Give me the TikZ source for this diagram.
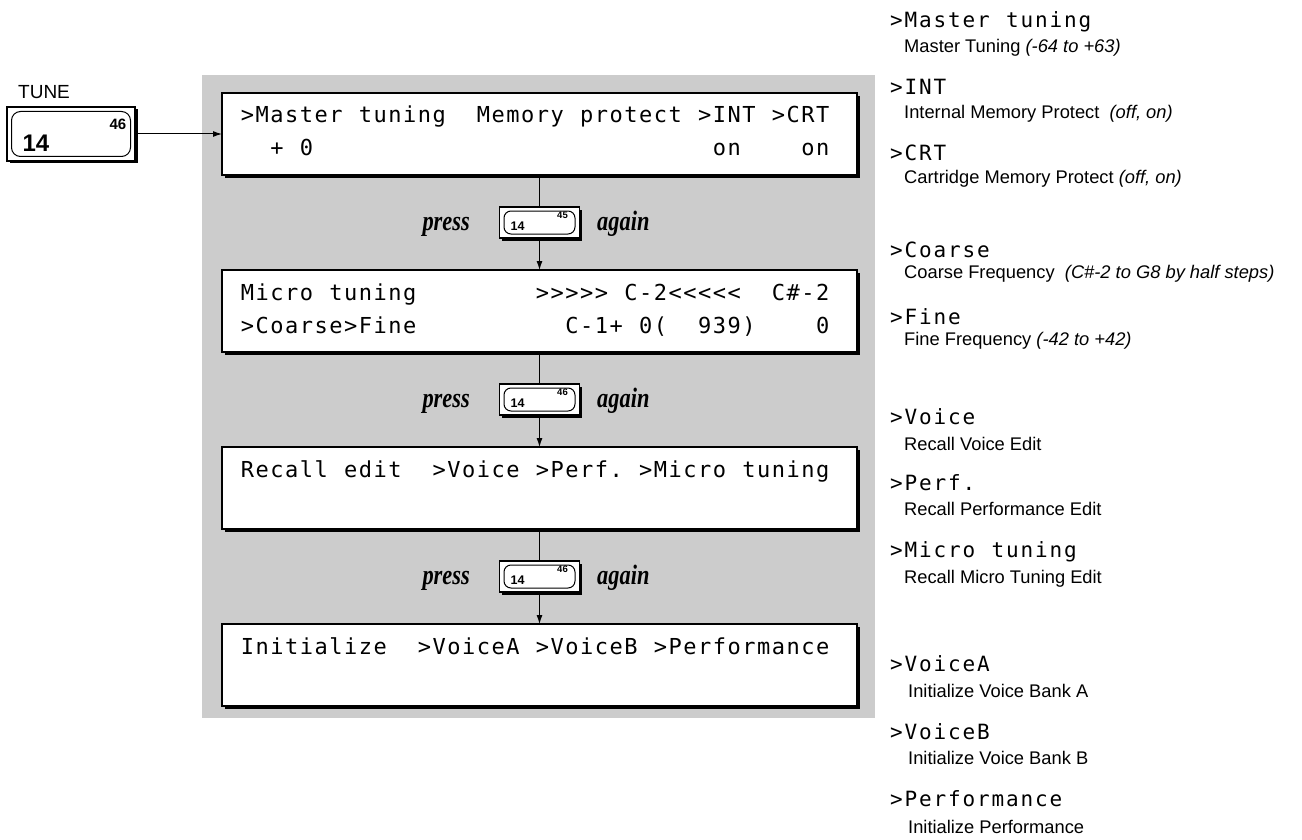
\documentclass[tikz,border=0pt]{standalone}
\usepackage{fontspec}
\setmainfont{Liberation Serif}
\newfontfamily\lcdfont{DejaVu Sans Mono}
\newfontfamily\helv{Liberation Sans}
\newfontfamily\pressfont[FakeStretch=0.8]{Liberation Serif}
\usetikzlibrary{arrows.meta,shadows}

\definecolor{screen}{gray}{0.80}

% LCD read-outs are set in fixed character cells; ~ marks an empty cell
\newlength\lcdpitch
\def\lcdloop#1{\ifx#1\relax\else\lcdcell#1\expandafter\lcdloop\fi}
\def\lcdcell#1{\ifx#1~\hbox to\lcdpitch{\hfil}\else\hbox to\lcdpitch{\hss#1\hss}\fi}
\newcommand\lcdrow[3]{{\setlength\lcdpitch{#1}\lcdfont\fontsize{#2}{#2}\selectfont\lcdloop#3\relax}}
\newcommand\boxrow[1]{\lcdrow{14.75pt}{22}{#1}}
\newcommand\itemrow[1]{\lcdrow{14.5pt}{21}{#1}}

\begin{document}
\begin{tikzpicture}[x=1pt,y=-1pt,
  backdrop/.style={fill=screen, inner sep=0pt, outer sep=0pt, anchor=north west},
  lcdbox/.style={draw, line width=1.4pt, fill=white, minimum width=635pt,
    minimum height=82pt, inner sep=0pt, outer sep=0pt, anchor=north west,
    drop shadow={shadow xshift=3pt, shadow yshift=-3pt, opacity=1, fill=black}},
  keyouter/.style={draw, line width=1.2pt, fill=white, inner sep=0pt, outer sep=0pt,
    drop shadow={shadow xshift=2.5pt, shadow yshift=-2.5pt, opacity=1, fill=black}},
  keyinner/.style={draw, line width=1pt, rounded corners=7pt, fill=white, inner sep=0pt},
  keysmall/.style={font=\helv\bfseries\fontsize{12.5}{12.5}\selectfont, inner sep=0pt},
  keytiny/.style={font=\helv\bfseries\fontsize{9.5}{9.5}\selectfont, inner sep=0pt},
  presstxt/.style={font=\pressfont\bfseries\itshape\fontsize{28}{30}\selectfont, inner sep=0pt},
  lcdline/.style={inner sep=0pt, anchor=base west},
  desc/.style={inner sep=0pt, anchor=base west, font=\helv\fontsize{18.3}{20}\selectfont},
  link/.style={line width=1pt},
  tip/.style={-{Latex[length=9pt,width=6pt]}}]

\useasboundingbox (0,0) rectangle (1302,840);
\fill[white] (0,0) rectangle (1302,840);

% shaded panel behind the display sequence
\node[backdrop, minimum width=673pt, minimum height=643pt] (panel) at (202,75) {};

% TUNE key
\node[inner sep=0pt, anchor=base west, font=\helv\fontsize{19}{19}\selectfont] (tunelbl) at (18,99) {TUNE};
\node[keyouter, minimum width=128pt, minimum height=54pt] (tune) at (71,134) {};
\node[keyinner, rounded corners=9pt, minimum width=119pt, minimum height=45pt] (tunein) at (tune.center) {};
\node[inner sep=0pt, font=\helv\bfseries\fontsize{15}{15}\selectfont] (tune46) at (118,124) {46};
\node[inner sep=0pt, font=\helv\bfseries\fontsize{24}{24}\selectfont] (tune14) at (36,143) {14};

% the four display screens
\node[lcdbox] (b1) at (222,93) {};
\node[lcdbox] (b2) at (222,270) {};
\node[lcdbox] (b3) at (222,447) {};
\node[lcdbox] (b4) at (222,624) {};

\node[lcdline] (t1a) at (240,123) {\boxrow{>Master~tuning~~Memory~protect~>INT~>CRT}};
\node[lcdline] (t1b) at (240,156) {\boxrow{~~+~0~~~~~~~~~~~~~~~~~~~~~~~~~~~on~~~~on}};
\node[lcdline] (t2a) at (240,300) {\boxrow{Micro~tuning~~~~~~~~>>>>>~C-2<<<<<~~C\#-2}};
\node[lcdline] (t2b) at (240,333) {\boxrow{>Coarse>Fine~~~~~~~~~~C-1+~0(~~939)~~~~0}};
\node[lcdline] (t3a) at (240,477) {\boxrow{Recall~edit~~>Voice~>Perf.~>Micro~tuning}};
\node[lcdline] (t4a) at (240,654) {\boxrow{Initialize~~>VoiceA~>VoiceB~>Performance}};

% "press ... again" keys between the screens
\node[keyouter, minimum width=80pt, minimum height=31pt] (k1) at (539.5,222.5) {};
\node[keyouter, minimum width=80pt, minimum height=31pt] (k2) at (539.5,399.5) {};
\node[keyouter, minimum width=80pt, minimum height=31pt] (k3) at (539.5,576.5) {};
\foreach \k/\n in {k1/45,k2/46,k3/46}{
  \node[keyinner, minimum width=71pt, minimum height=23pt] (\k in) at (\k.center) {};
  \node[keysmall] (\k a) at ([xshift=-22pt,yshift=-4pt]\k.center) {14};
  \node[keytiny] (\k b) at ([xshift=23pt,yshift=7pt]\k.center) {\n};
  \node[presstxt, anchor=base east] (\k p) at ([xshift=-29.5pt,yshift=-7.5pt]\k.west) {press};
  \node[presstxt, anchor=base west] (\k g) at ([xshift=17.5pt,yshift=-7.5pt]\k.east) {again};
}

% connectors
\draw[link,tip] (tune.east) -- (b1.west);
\draw[link] (b1.south) -- (k1.north);
\draw[link,tip] (k1.south) -- (b2.north);
\draw[link] (b2.south) -- (k2.north);
\draw[link,tip] (k2.south) -- (b3.north);
\draw[link] (b3.south) -- (k3.north);
\draw[link,tip] (k3.south) -- (b4.north);

% legend of the display items
\node[lcdline] (r1) at (889,27.5) {\itemrow{>Master~tuning}};
\node[desc] (d1) at (904,52.5) {Master Tuning \textit{(-64 to +63)}};
\node[lcdline] (r2) at (889,94.5) {\itemrow{>INT}};
\node[desc] (d2) at (904,118.5) {Internal Memory Protect \ \textit{(off, on)}};
\node[lcdline] (r3) at (889,160.5) {\itemrow{>CRT}};
\node[desc] (d3) at (904,183.5) {Cartridge Memory Protect \textit{(off, on)}};
\node[lcdline] (r4) at (889,257.5) {\itemrow{>Coarse}};
\node[desc] (d4) at (904,278.5) {Coarse Frequency \ \textit{(C\#-2 to G8 by half steps)}};
\node[lcdline] (r5) at (889,324.5) {\itemrow{>Fine}};
\node[desc] (d5) at (904,345.5) {Fine Frequency \textit{(-42 to +42)}};
\node[lcdline] (r6) at (889,424.5) {\itemrow{>Voice}};
\node[desc] (d6) at (904,450.5) {Recall Voice Edit};
\node[lcdline] (r7) at (889,490.5) {\itemrow{>Perf.}};
\node[desc] (d7) at (904,515.5) {Recall Performance Edit};
\node[lcdline] (r8) at (889,557.5) {\itemrow{>Micro~tuning}};
\node[desc] (d8) at (904,583.5) {Recall Micro Tuning Edit};
\node[lcdline] (r9) at (889,671.5) {\itemrow{>VoiceA}};
\node[desc] (d9) at (908,697.5) {Initialize Voice Bank A};
\node[lcdline] (r10) at (889,739.5) {\itemrow{>VoiceB}};
\node[desc] (d10) at (908,764.5) {Initialize Voice Bank B};
\node[lcdline] (r11) at (889,806.5) {\itemrow{>Performance}};
\node[desc] (d11) at (908,833.5) {Initialize Performance};
\end{tikzpicture}
\end{document}
